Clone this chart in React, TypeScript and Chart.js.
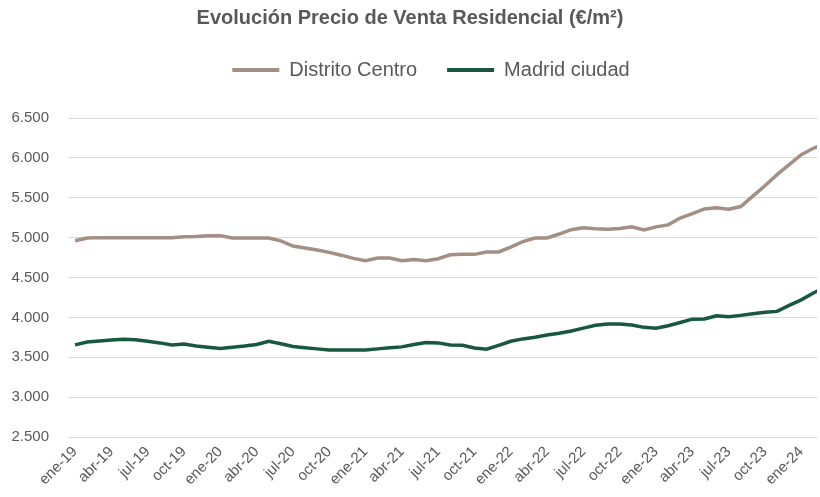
import React, { useEffect, useRef } from 'react';
import { Chart, registerables } from 'chart.js';

Chart.register(...registerables);

const monthNames = ['ene', 'feb', 'mar', 'abr', 'may', 'jun', 'jul', 'ago', 'sep', 'oct', 'nov', 'dic'];
const years = ['19', '20', '21', '22', '23', '24'];
const months: string[] = years.flatMap((y) => monthNames.map((m) => `${m}-${y}`)).slice(0, 63);

const centro = [
  4960, 4995, 5000, 5000, 5000, 5000, 5000, 5000, 5000, 5010, 5015, 5025,
  5025, 4995, 4995, 4995, 4995, 4960, 4895, 4870, 4845, 4815, 4780, 4740,
  4710, 4745, 4745, 4710, 4725, 4710, 4735, 4785, 4790, 4790, 4820, 4820,
  4880, 4950, 4995, 4995, 5045, 5100, 5125, 5110, 5105, 5115, 5135, 5095,
  5135, 5160, 5245, 5300, 5360, 5375, 5355, 5390, 5520, 5650, 5790, 5915,
  6040, 6120, 6180,
];

const madrid = [
  3655, 3690, 3705, 3715, 3725, 3720, 3700, 3680, 3655, 3665, 3640, 3625,
  3610, 3625, 3640, 3660, 3700, 3670, 3635, 3620, 3605, 3590, 3590, 3590,
  3590, 3605, 3620, 3630, 3660, 3685, 3680, 3655, 3650, 3615, 3600, 3650,
  3700, 3730, 3750, 3780, 3800, 3830, 3865, 3900, 3917, 3917, 3905, 3875,
  3865, 3895, 3935, 3978, 3980, 4020, 4008, 4025, 4045, 4065, 4075, 4150,
  4220, 4305, 4385,
];

const seriesNames = ['Distrito Centro', 'Madrid ciudad'];
const yTicks = [2500, 3000, 3500, 4000, 4500, 5000, 5500, 6000, 6500];
const labelEvery = 3;

const FONT = "'Liberation Sans', Arial, sans-serif";
const GREY = '#595959';

const legendShift = {
  id: 'legendShift',
  afterLayout(chart: any) {
    const lg = chart.legend;
    if (lg) {
      lg.left += 21;
      lg.right += 21;
    }
  },
};

export default function App() {
  const ref = useRef<HTMLCanvasElement | null>(null);

  useEffect(() => {
    if (!ref.current) return;
    const chart = new Chart(ref.current, {
      type: 'line',
      data: {
        datasets: [
          {
            label: seriesNames[0],
            data: centro.map((v, i) => ({ x: i, y: v })),
            borderColor: '#a38f83',
            backgroundColor: '#a38f83',
            borderWidth: 3.5,
            pointRadius: 0,
            tension: 0,
          },
          {
            label: seriesNames[1],
            data: madrid.map((v, i) => ({ x: i, y: v })),
            borderColor: '#17583f',
            backgroundColor: '#17583f',
            borderWidth: 3.5,
            pointRadius: 0,
            tension: 0,
          },
        ],
      },
      plugins: [legendShift],
      options: {
        responsive: false,
        animation: false,
        layout: { padding: 0 },
        plugins: {
          title: {
            display: true,
            text: 'Evolución Precio de Venta Residencial (€/m²)',
            color: GREY,
            font: { family: FONT, size: 20, weight: 'bold', lineHeight: 1.2 },
            padding: { top: 6, bottom: 0 },
          },
          subtitle: {
            display: true,
            text: '',
            weight: 500,
            font: { size: 1, lineHeight: 1 },
            padding: { top: 27, bottom: 0 },
          },
          legend: {
            display: true,
            position: 'top',
            labels: {
              color: GREY,
              font: { family: FONT, size: 20 },
              boxWidth: 47,
              boxHeight: 4,
              padding: 30,
              generateLabels: (c: any) =>
                (Chart.defaults.plugins.legend.labels as any)
                  .generateLabels(c)
                  .map((l: any) => ({ ...l, lineWidth: 0, fillStyle: l.strokeStyle })),
            },
          },
          tooltip: { enabled: false },
        },
        scales: {
          x: {
            type: 'linear',
            min: -0.5,
            max: 61.3,
            grid: { display: false, drawTicks: false },
            border: { display: false },
            afterFit: (s: any) => {
              s.height = 60;
            },
            afterBuildTicks: (s: any) => {
              s.ticks = months
                .map((_, i) => i)
                .filter((i) => i % labelEvery === 0 && i <= 61)
                .map((i) => ({ value: i }));
            },
            ticks: {
              autoSkip: false,
              maxRotation: 45,
              minRotation: 45,
              padding: 6,
              color: GREY,
              font: { family: FONT, size: 15 },
              callback: (v: any) => months[v] ?? '',
            },
          },
          y: {
            min: 2500,
            max: 6500,
            grid: { color: '#d9d9d9', lineWidth: 1, drawTicks: false },
            border: { display: false },
            afterFit: (s: any) => {
              s.width = 69;
            },
            afterBuildTicks: (s: any) => {
              s.ticks = yTicks.map((v) => ({ value: v }));
            },
            ticks: {
              padding: 20,
              color: GREY,
              font: { family: FONT, size: 15 },
              callback: (v: any) => {
                const n = Number(v);
                return `${Math.floor(n / 1000)}.${String(n % 1000).padStart(3, '0')}`;
              },
            },
          },
        },
      },
    });
    return () => chart.destroy();
  }, []);

  return (
    <div style={{ position: 'fixed', left: 0, top: 0, width: 820, height: 497, background: '#fff' }}>
      <canvas ref={ref} width={820} height={497} style={{ display: 'block' }} />
    </div>
  );
}
